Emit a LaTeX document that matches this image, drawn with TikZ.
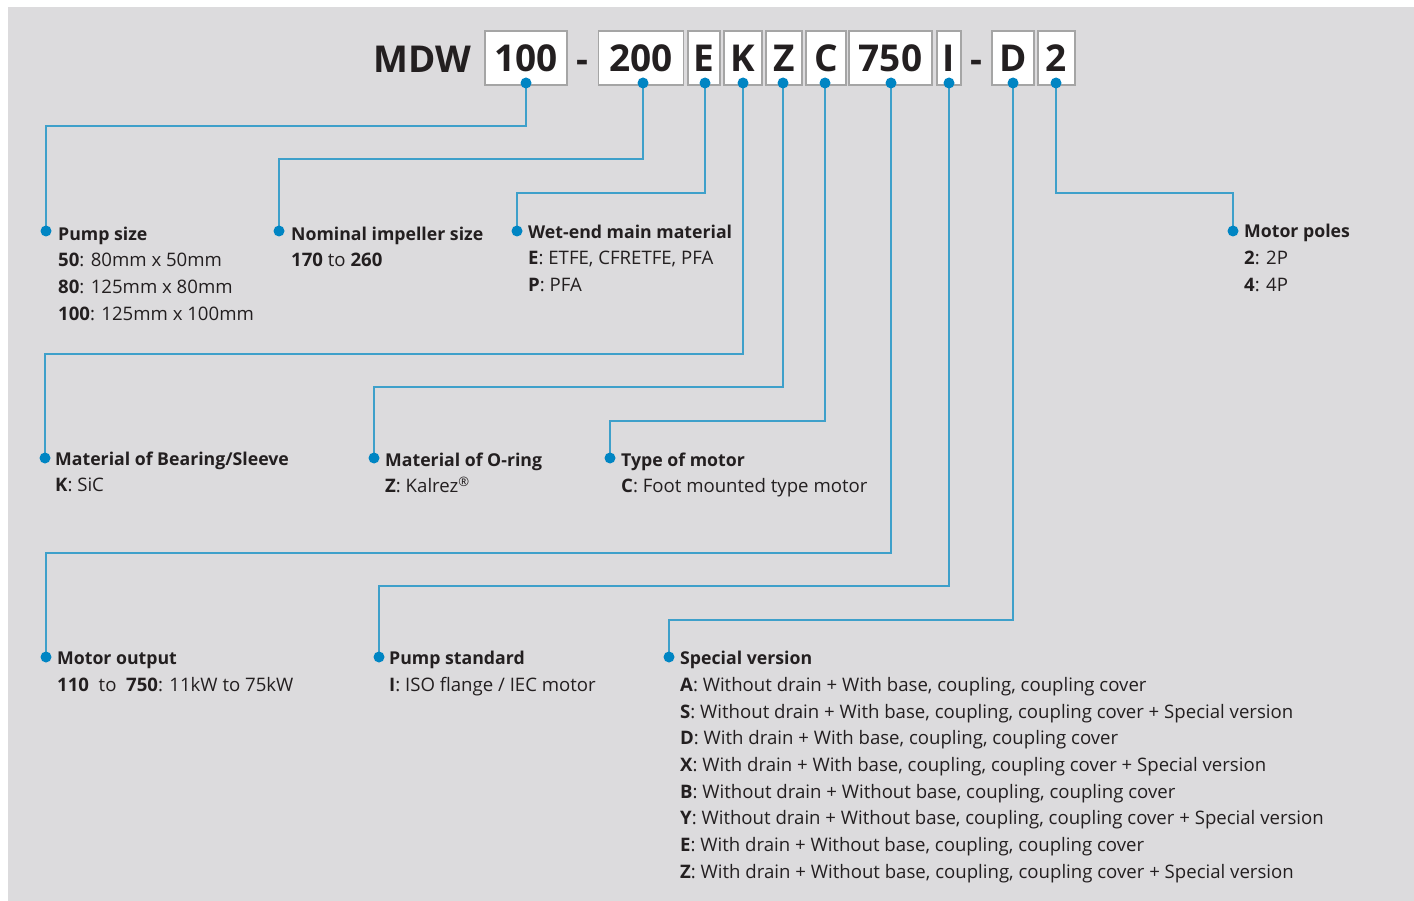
\documentclass[tikz,border=0pt]{standalone}
\usepackage{fontspec}
\setmainfont{Open Sans}
\usepackage{tikz}
\usetikzlibrary{positioning,calc,backgrounds}
\definecolor{PanelGrey}{RGB}{220,219,221}
\definecolor{InkBlack}{RGB}{35,31,32}
\definecolor{LeadBlue}{RGB}{62,160,202}
\definecolor{DotBlue}{RGB}{0,133,195}
\definecolor{BoxGrey}{RGB}{165,165,165}
\newcommand{\infohead}[1]{{\fontsize{17.7}{26.7}\selectfont\bfseries #1}}

\begin{document}
\begin{tikzpicture}[x=1pt, y=-1pt,
    % header boxes
    codebox/.style={draw=BoxGrey, fill=white, line width=1.3pt, minimum height=54pt, inner sep=0pt, text=InkBlack, font=\fontsize{37}{37}\selectfont\bfseries},
    codetext/.style={text=InkBlack, font=\fontsize{37}{37}\selectfont\bfseries, inner sep=0pt},
    % dots and leader lines
    bluedot/.style={circle, fill=DotBlue, minimum size=11pt, inner sep=0pt},
    leadline/.style={draw=LeadBlue, line width=1.2pt},
    % label blocks (first line carries a strut, top = baseline - 18.7)
    infotext/.style={anchor=north west, align=left, inner sep=0pt, text=InkBlack, font=\fontsize{18.6}{26.7}\selectfont}
  ]
  \useasboundingbox (0,0) rectangle (1414,901);

  % --- HEADER ---
  \node[codetext, anchor=base east] (mdw) at (471,73) {MDW};
  \node[codebox, minimum width=82pt] (c100) at (526,58) {100};
  \node[codetext, anchor=base] (dash1) at (582,73) {-};
  \node[codebox, minimum width=85pt] (c200) at (641,58) {200};
  \node[codebox, minimum width=32pt] (cE) at (704,58) {E};
  \node[codebox, minimum width=38pt] (cK) at (743,58) {K};
  \node[codebox, minimum width=36pt] (cZ) at (784,58) {Z};
  \node[codebox, minimum width=40pt] (cC) at (826,58) {C};
  \node[codebox, minimum width=83pt] (c750) at (890.5,58) {750};
  \node[codebox, minimum width=24pt] (cI) at (949,58) {I};
  \node[codetext, anchor=base] (dash2) at (976,73) {-};
  \node[codebox, minimum width=42pt] (cD) at (1013,58) {D};
  \node[codebox, minimum width=37pt] (c2) at (1056.5,58) {2};

  % dots under the code
  \node[bluedot] (d100) at (526,83) {};
  \node[bluedot] (d200) at (643,83) {};
  \node[bluedot] (dE) at (705,83) {};
  \node[bluedot] (dK) at (743,83) {};
  \node[bluedot] (dZ) at (783,83) {};
  \node[bluedot] (dC) at (825,83) {};
  \node[bluedot] (d750) at (891,83) {};
  \node[bluedot] (dI) at (949,83) {};
  \node[bluedot] (dD) at (1013,83) {};
  \node[bluedot] (d2) at (1056,83) {};

  % --- LABEL DOTS ---
  \node[bluedot] (lpump) at (46,231) {};
  \node[bluedot] (limp) at (279,231) {};
  \node[bluedot] (lwet) at (517,231) {};
  \node[bluedot] (lpoles) at (1233,231) {};
  \node[bluedot] (lbear) at (45,458) {};
  \node[bluedot] (loring) at (374,458) {};
  \node[bluedot] (ltype) at (610,458) {};
  \node[bluedot] (lout) at (46,657) {};
  \node[bluedot] (lstd) at (379,657) {};
  \node[bluedot] (lspec) at (669,657) {};

  % --- LEADER LINES ---
  \begin{pgfonlayer}{background}
    \fill[white] (0,0) rectangle (1414,901);
    \fill[PanelGrey] (8,7) rectangle (1414,901);
    \draw[leadline] (d100.center) -- ++(0,43) -| (lpump.center);
    \draw[leadline] (d200.center) -- ++(0,76) -| (limp.center);
    \draw[leadline] (dE.center) -- ++(0,110) -| (lwet.center);
    \draw[leadline] (d2.center) -- ++(0,110) -| (lpoles.center);
    \draw[leadline] (dK.center) -- ++(0,271) -| (lbear.center);
    \draw[leadline] (dZ.center) -- ++(0,304) -| (loring.center);
    \draw[leadline] (dC.center) -- ++(0,338) -| (ltype.center);
    \draw[leadline] (d750.center) -- ++(0,470) -| (lout.center);
    \draw[leadline] (dI.center) -- ++(0,503) -| (lstd.center);
    \draw[leadline] (dD.center) -- ++(0,537) -| (lspec.center);
  \end{pgfonlayer}

  % --- LABELS ---
  \node[infotext] (tpump) at (58,221.3) {\strut\infohead{Pump size}\\
    \textbf{50}: 80mm x 50mm\\
    \textbf{80}: 125mm x 80mm\\
    \textbf{100}: 125mm x 100mm};
  \node[infotext] (timp) at (291,221.3) {\strut\infohead{Nominal impeller size}\\
    \textbf{170} to \textbf{260}};
  \node[infotext] (twet) at (528,219.3) {\strut\infohead{Wet-end main material}\\
    \textbf{E}: ETFE, CFRETFE, PFA\\
    \textbf{P}: PFA};
  \node[infotext] (tpoles) at (1244,218.8) {\strut\infohead{Motor poles}\\
    \textbf{2}: 2P\\
    \textbf{4}: 4P};
  \node[infotext] (tbear) at (55,446.3) {\strut\infohead{Material of Bearing/Sleeve}\\
    \textbf{K}: SiC};
  \node[infotext] (toring) at (385,447.3) {\strut\infohead{Material of O-ring}\\
    \textbf{Z}: Kalrez\textsuperscript{\textregistered}};
  \node[infotext] (ttype) at (621,447.3) {\strut\infohead{Type of motor}\\
    \textbf{C}: Foot mounted type motor};
  \node[infotext] (tout) at (57,645.8) {\strut\infohead{Motor output}\\
    \textbf{110} ~to~ \textbf{750}: 11kW to 75kW};
  \node[infotext] (tstd) at (389,645.8) {\strut\infohead{Pump standard}\\
    \textbf{I}: ISO flange / IEC motor};
  \node[infotext] (tspec) at (680,645.8) {\strut\infohead{Special version}\\
    \textbf{A}: Without drain + With base, coupling, coupling cover\\
    \textbf{S}: Without drain + With base, coupling, coupling cover + Special version\\
    \textbf{D}: With drain + With base, coupling, coupling cover\\
    \textbf{X}: With drain + With base, coupling, coupling cover + Special version\\
    \textbf{B}: Without drain + Without base, coupling, coupling cover\\
    \textbf{Y}: Without drain + Without base, coupling, coupling cover + Special version\\
    \textbf{E}: With drain + Without base, coupling, coupling cover\\
    \textbf{Z}: With drain + Without base, coupling, coupling cover + Special version};

\end{tikzpicture}
\end{document}
